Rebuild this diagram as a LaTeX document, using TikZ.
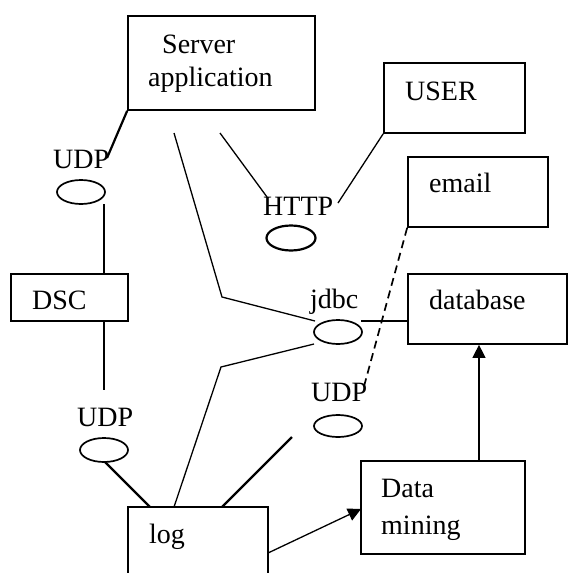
\documentclass[tikz,border=0pt]{standalone}
\usepackage{fontspec}
\setmainfont{Liberation Serif}
\usetikzlibrary{shapes.geometric,arrows.meta}
\begin{document}
\begin{tikzpicture}[x=1pt,y=-1pt,
  box/.style={draw,line width=1.7pt,rectangle,inner sep=0pt},
  oval/.style={draw,line width=1.7pt,ellipse,inner sep=0pt,minimum width=48pt,minimum height=24pt},
  txt/.style={anchor=base west,inner sep=0pt,font=\fontsize{28}{32}\selectfont},
  thin/.style={line width=1.3pt},
  thick2/.style={line width=2.2pt},
  arr/.style={line width=1.3pt,-{Triangle[length=13pt,width=13pt]}}]
\clip (0,0) rectangle (568,573);
\useasboundingbox (0,0) rectangle (568,573);
% boxes
\node[box,minimum width=187pt,minimum height=94pt] (server) at (221.5,63) {};
\node[box,minimum width=141pt,minimum height=70pt] (user) at (454.5,98) {};
\node[box,minimum width=140pt,minimum height=70pt] (email) at (478,192) {};
\node[box,minimum width=159pt,minimum height=70pt] (db) at (487.5,309) {};
\node[box,minimum width=117pt,minimum height=47pt] (dsc) at (69.5,297.5) {};
\node[box,minimum width=140pt,minimum height=100pt] (log) at (198,557) {};
\node[box,minimum width=164pt,minimum height=93pt] (dm) at (443,507.5) {};
% ovals
\node[oval] (udpa) at (81,192) {};
\node[oval,line width=2.2pt,minimum width=49pt,minimum height=25pt] (http) at (291,238) {};
\node[oval] (jdbc) at (338,332) {};
\node[oval,minimum height=22pt] (udpb) at (338,426) {};
\node[oval] (udpc) at (104,450) {};
% texts
\node[txt] (tserver) at (162,53) {Server};
\node[txt] (tapp) at (148,86) {application};
\node[txt] (tuser) at (405,100) {USER};
\node[txt] (temail) at (429,192) {email};
\node[txt] (tdb) at (429,309) {database};
\node[txt] (tdsc) at (32,309) {DSC};
\node[txt] (tlog) at (149,543) {log};
\node[txt] (tdata) at (381,497) {Data};
\node[txt] (tmining) at (381,534) {mining};
\node[txt] (ludpa) at (53,168) {UDP};
\node[txt] (lhttp) at (263,215) {HTTP};
\node[txt] (ljdbc) at (310,308) {jdbc};
\node[txt] (ludpb) at (311,401) {UDP};
\node[txt] (ludpc) at (77,426) {UDP};
% connector end points
\coordinate (a1) at (107,158);
\coordinate (a2) at (104,204);
\coordinate (a3) at (104,390);
\coordinate (a4) at (105,462);
\coordinate (l1) at (150,507);
\coordinate (l2) at (174,507);
\coordinate (l3) at (222,507);
\coordinate (b1) at (221,367);
\coordinate (b2) at (314,344);
\coordinate (c1) at (292,437);
\coordinate (s1) at (174,133);
\coordinate (s2) at (222,297);
\coordinate (s3) at (315,321);
\coordinate (h1) at (220,133);
\coordinate (h2) at (267,197);
\coordinate (u1) at (338,203);
\coordinate (j1) at (361,321);
\coordinate (e1) at (363,390);
\coordinate (g1) at (268,553);
\coordinate (g2) at (361,509);
% connectors
\draw[thick2] (server.south west) -- (a1);
\draw[thick2] (a2) -- (dsc.north -| a2);
\draw[thick2] (dsc.south -| a3) -- (a3);
\draw[thick2] (a4) -- (l1);
\draw[thin] (l2) -- (b1) -- (b2);
\draw[thick2] (l3) -- (c1);
\draw[thin] (s1) -- (s2) -- (s3);
\draw[thin] (h1) -- (h2);
\draw[thin] (user.south west) -- (u1);
\draw[thin] (j1) -- (db.west |- j1);
\draw[line width=1.7pt,dash pattern=on 8pt off 5pt] (email.south west) -- (e1);
\draw[arr] (g1) -- (g2);
\draw[arr] (dm.north -| 479,0) -- (db.south -| 479,0);
\end{tikzpicture}
\end{document}
